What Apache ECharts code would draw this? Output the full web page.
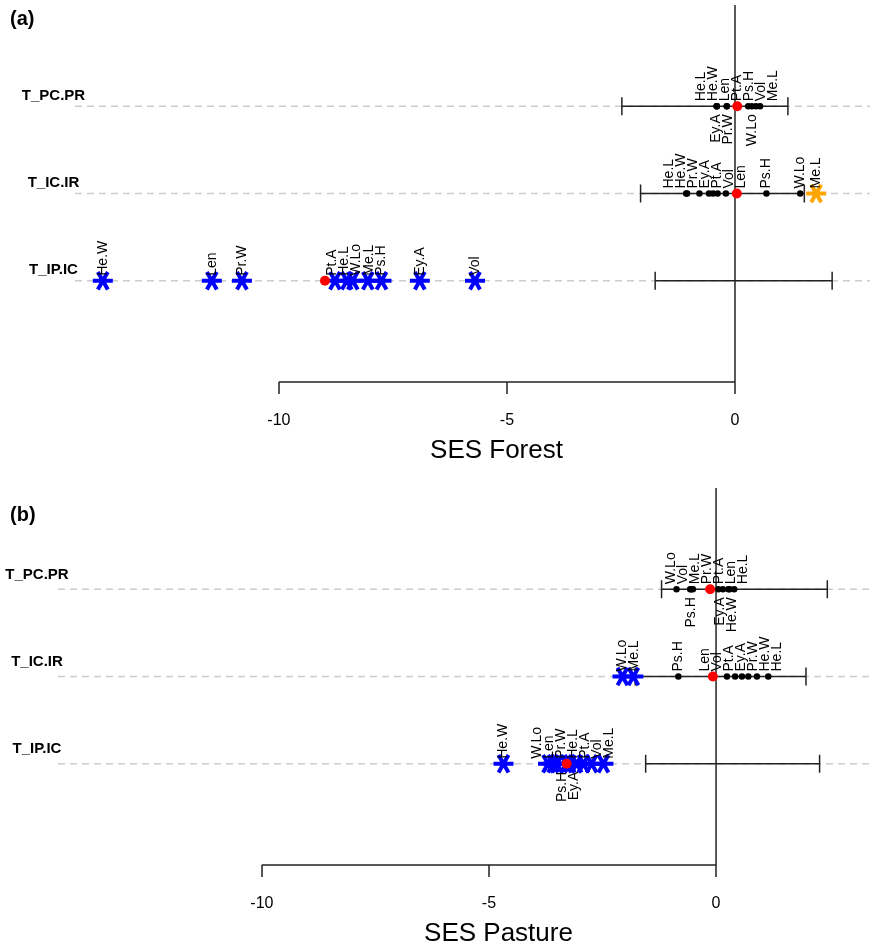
<!DOCTYPE html>
<html><head><meta charset="utf-8">
<script src="https://cdn.jsdelivr.net/npm/echarts@6/dist/echarts.min.js"></script>
<style>html,body{margin:0;padding:0;background:#fff}#c{width:872px;height:947px}</style>
</head><body><div id="c"></div>
<script>
// ---------- data ----------
const traits = ["He.L","He.W","Len","Pt.A","Ps.H","Vol","Me.L","Ey.A","Pr.W","W.Lo"];
const rowNames = ["T_IP.IC","T_IC.IR","T_PC.PR"];
const rowLevels = [1, 2, 3];
const xTicks = [-10, -5, 0];

// Forest (values in the order of `traits`)
const forestIPIC = [-8.51, -13.86, -11.47, -8.77, -7.75, -5.70, -8.05, -6.91, -10.81, -8.38];
const forestICIR = [-1.07, -1.05, -0.20, -0.48, 0.69, -0.38, 1.78, -0.57, -0.78, 1.43];
const forestPCPR = [-0.40, -0.40, -0.18, 0.05, 0.29, 0.46, 0.55, -0.40, -0.18, 0.37];
const forestObs = [-8.99, 0.04, 0.05];
const forestLo  = [-1.75, -2.07, -2.48];
const forestHi  = [2.13, 1.52, 1.16];
const forestBelow = [[], [], ["Ey.A","Pr.W","W.Lo"]];

// Pasture
const pastureIPIC = [-3.07, -4.68, -3.59, -2.92, -3.30, -2.74, -2.48, -3.22, -3.50, -3.70];
const pastureICIR = [1.15, 0.90, -0.07, 0.42, -0.83, 0.24, -1.82, 0.57, 0.71, -2.06];
const pasturePCPR = [0.40, 0.30, 0.27, 0.05, -0.55, -0.57, -0.51, 0.15, -0.15, -0.87];
const pastureObs = [-3.29, -0.07, -0.13];
const pastureLo  = [-1.55, -1.78, -1.20];
const pastureHi  = [2.28, 1.98, 2.45];
const pastureBelow = [["Ps.H","Ey.A"], [], ["Ps.H","Ey.A","He.W"]];

// ---------- layout helpers ----------
const Y0 = -0.16, Y1 = 4.16;
const GAP = 0.264; // min label spacing in axis units (~12px)
const FONT = '"Liberation Sans", Arial, sans-serif';
const STAR = 'path://M-10,-2L10,-2L10,2L-10,2ZM-3.268,-9.66L6.732,7.66L3.268,9.66L-6.732,-7.66ZM6.732,-7.66L-3.268,9.66L-6.732,7.66L3.268,-9.66Z';

function spread(ps, g) {
  const cl = [];
  ps.forEach(p => {
    cl.push({n: 1, s: p});
    while (cl.length > 1) {
      const b = cl[cl.length - 1], a = cl[cl.length - 2];
      if (a.s / a.n + a.n * g > b.s / b.n) {
        a.s = a.s + b.s - b.n * a.n * g; a.n += b.n; cl.pop();
      } else break;
    }
  });
  const out = [];
  cl.forEach(c => { const st = c.s / c.n; for (let j = 0; j < c.n; j++) out.push(st + j * g); });
  return out;
}

function panelSeries(gi, rowsVals, obs, lo, hi, below, xmin, xmax) {
  const ax = {xAxisIndex: gi, yAxisIndex: gi, silent: true, animation: false};
  const S = [];
  rowLevels.forEach(y => S.push(Object.assign({type: 'line', data: [[xmin, y], [xmax, y]], symbol: 'none',
    lineStyle: {color: '#cccccc', width: 1.5, type: [7, 5]}, z: 1, clip: false}, ax)));
  S.push(Object.assign({type: 'line', data: [[xTicks[0], Y0], [xTicks[xTicks.length - 1], Y0]], symbol: 'none',
    lineStyle: {color: '#222', width: 1.5}, z: 2, clip: false}, ax));
  S.push(Object.assign({type: 'line', data: [[0, Y0], [0, Y1]], symbol: 'none',
    lineStyle: {color: '#222', width: 1.5}, z: 2, clip: false}, ax));
  S.push(Object.assign({type: 'custom', z: 3, clip: false,
    data: rowLevels.map((y, i) => [lo[i], hi[i], y]),
    renderItem: (p, api) => {
      const a = api.coord([api.value(0), api.value(2)]), b = api.coord([api.value(1), api.value(2)]);
      const st = {stroke: '#222', lineWidth: 1.5};
      return {type: 'group', children: [
        {type: 'line', shape: {x1: a[0], y1: a[1], x2: b[0], y2: b[1]}, style: st},
        {type: 'line', shape: {x1: a[0], y1: a[1] - 9, x2: a[0], y2: a[1] + 9}, style: st},
        {type: 'line', shape: {x1: b[0], y1: b[1] - 9, x2: b[0], y2: b[1] + 9}, style: st}
      ]};
    }}, ax));
  const dots = [], blue = [], orange = [], labels = [];
  rowsVals.forEach((vals, i) => {
    const y = rowLevels[i];
    vals.forEach(v => {
      if (v < lo[i]) blue.push([v, y]); else if (v > hi[i]) orange.push([v, y]); else dots.push([v, y]);
    });
    [false, true].forEach(down => {
      const items = traits.map((t, k) => ({t, v: vals[k]}))
        .filter(o => below[i].includes(o.t) === down)
        .sort((a, b) => a.v - b.v);
      const q = spread(items.map(o => o.v), GAP);
      items.forEach((o, j) => labels.push({x: q[j], y, t: o.t, down}));
    });
  });
  S.push(Object.assign({type: 'scatter', data: dots, symbol: 'circle', symbolSize: 6.5, itemStyle: {color: '#000', opacity: 1}, z: 4}, ax));
  S.push(Object.assign({type: 'scatter', data: blue, symbol: STAR, symbolSize: [20, 19.3], itemStyle: {color: '#0000ff', opacity: 1}, z: 5}, ax));
  S.push(Object.assign({type: 'scatter', data: orange, symbol: STAR, symbolSize: [20, 19.3], itemStyle: {color: '#ffa500', opacity: 1}, z: 5}, ax));
  S.push(Object.assign({type: 'scatter', data: rowLevels.map((y, i) => [obs[i], y]), symbol: 'circle', symbolSize: 10, itemStyle: {color: '#ff0000', opacity: 1}, z: 6}, ax));
  S.push(Object.assign({type: 'custom', z: 7, clip: false,
    data: labels.map(l => [l.x, l.y]),
    renderItem: (params, api) => {
      const L = labels[params.dataIndex];
      const p = api.coord([api.value(0), api.value(1)]);
      return {type: 'text', x: p[0], y: L.down ? p[1] + 8 : p[1] - 5, rotation: Math.PI / 2,
        style: {text: L.t, x: 0, y: 0, align: L.down ? 'right' : 'left', verticalAlign: 'middle',
          font: '14px ' + FONT, fill: '#000'}};
    }}, ax));
  return S;
}

function xAxisDef(gi, min, max) {
  return {gridIndex: gi, type: 'value', min, max,
    axisLine: {show: false, onZero: false}, splitLine: {show: false},
    axisTick: {show: true, inside: false, customValues: xTicks, length: 12, lineStyle: {color: '#222', width: 1.5}},
    axisLabel: {customValues: xTicks, margin: 31, fontSize: 16, color: '#000', fontFamily: FONT}};
}
function yAxisDef(gi, margin, padB) {
  return {gridIndex: gi, type: 'value', min: Y0, max: Y1,
    axisLine: {show: false, onZero: false}, axisTick: {show: false}, splitLine: {show: false},
    axisLabel: {customValues: rowLevels, formatter: v => rowNames[rowLevels.indexOf(Math.round(v))] || '',
      align: 'center', verticalAlign: 'bottom', margin, padding: [0, 0, padB, 0], lineHeight: 15,
      fontSize: 15, fontWeight: 'bold', color: '#000', fontFamily: FONT}};
}

const fMin = -14.47, fMax = 2.96, pMin = -14.49, pMax = 3.39;
const chart = echarts.init(document.getElementById('c'), null, {renderer: 'canvas'});
chart.setOption({
  animation: false,
  backgroundColor: '#fff',
  grid: [{left: 75, top: 5, width: 795, height: 377}, {left: 58, top: 488, width: 812, height: 377}],
  xAxis: [xAxisDef(0, fMin, fMax), xAxisDef(1, pMin, pMax)],
  yAxis: [yAxisDef(0, 21.5, 3), yAxisDef(1, 21, 7)],
  graphic: [
    {type: 'text', left: 10, top: 9, style: {text: '(a)', font: 'bold 20px ' + FONT, fill: '#000'}},
    {type: 'text', left: 10, top: 505, style: {text: '(b)', font: 'bold 20px ' + FONT, fill: '#000'}},
    {type: 'text', x: 496.5, y: 451, style: {text: 'SES Forest', font: '26px ' + FONT, fill: '#000', align: 'center', verticalAlign: 'middle'}},
    {type: 'text', x: 498.5, y: 934, style: {text: 'SES Pasture', font: '26px ' + FONT, fill: '#000', align: 'center', verticalAlign: 'middle'}}
  ],
  series: [].concat(
    panelSeries(0, [forestIPIC, forestICIR, forestPCPR], forestObs, forestLo, forestHi, forestBelow, fMin, fMax),
    panelSeries(1, [pastureIPIC, pastureICIR, pasturePCPR], pastureObs, pastureLo, pastureHi, pastureBelow, pMin, pMax)
  )
});
</script></body></html>
